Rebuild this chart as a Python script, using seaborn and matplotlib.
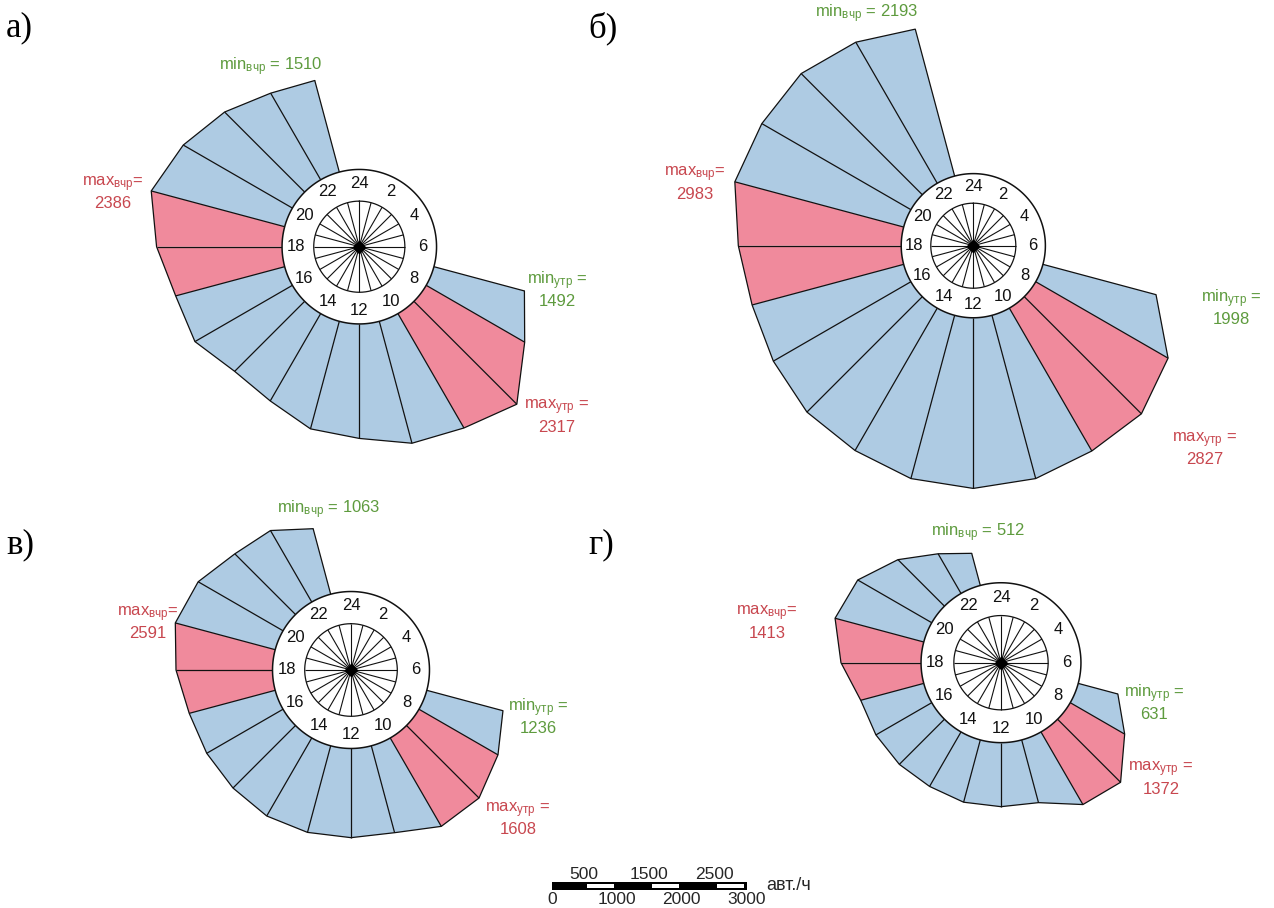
import numpy as np
import matplotlib
matplotlib.use("Agg")
import matplotlib.pyplot as plt
import seaborn as sns

# ---------------- data ----------------
hours = list(range(7, 24))  # hourly vertices 7:00 ... 23:00
flow_a = [1492, 1811, 2317, 2103, 2010, 1823, 1773, 1606, 1577, 1792, 1797, 1998, 2200, 2007, 1803, 1593, 1510]
flow_b = [1998, 2608, 2827, 2815, 2884, 2912, 2884, 2806, 2785, 2710, 2678, 2780, 2983, 2937, 2924, 2780, 2596]
flow_c = [1236, 1430, 1608, 1600, 1410, 1398, 1405, 1412, 1386, 1381, 1395, 1513, 1621, 1536, 1345, 1294, 1063]
flow_d = [631, 967, 1372, 1290, 999, 985, 992, 968, 982, 992, 1004, 1232, 1413, 1315, 1012, 705, 512]
peak_hours = [8, 9, 17, 18]          # intervals starting at these hours are peak (pink)
panel_names = ["а)", "б)", "в)", "г)"]
min_evening = [1510, 2193, 1063, 512]
max_evening = [2386, 2983, 2591, 1413]
min_morning = [1492, 1998, 1236, 631]
max_morning = [2317, 2827, 1608, 1372]
clock_hours = [2, 4, 6, 8, 10, 12, 14, 16, 18, 20, 22, 24]
scale_ticks = [0, 500, 1000, 1500, 2000, 2500, 3000]
scale_unit = "авт./ч"

# ---------------- style ----------------
sns.set_theme(style="white")
plt.rcParams["font.family"] = ["Liberation Sans", "DejaVu Sans"]
plt.rcParams["mathtext.fontset"] = "custom"
plt.rcParams["mathtext.rm"] = "Liberation Sans"
plt.rcParams["mathtext.it"] = "Liberation Sans"

BLUE = "#AECBE3"
PINK = "#F08A9C"
GREEN = "#5E9B3E"
RED = "#C8474F"
EDGE = "#111111"

W, H = 1274, 908
HUB = 1230      # hub radius expressed in flow units
RMAX = 3100

layout = [
    dict(flow=flow_a, c=(359.3, 246.7), k=0.0628, letter=(6, 28),
         lmin_ev=(271, 67), lmax_ev=(113, 193), lmin_mo=(557, 289), lmax_mo=(557, 416)),
    dict(flow=flow_b, c=(973.3, 245.7), k=0.0586, letter=(588, 28),
         lmin_ev=(867, 14), lmax_ev=(695, 183), lmin_mo=(1231, 307), lmax_mo=(1205, 449)),
    dict(flow=flow_c, c=(351.0, 670.0), k=0.0638, letter=(6, 545),
         lmin_ev=(329, 510), lmax_ev=(148, 623), lmin_mo=(538, 716), lmax_mo=(518, 819)),
    dict(flow=flow_d, c=(1001.0, 662.7), k=0.0650, letter=(588, 545),
         lmin_ev=(978, 533), lmax_ev=(767, 622), lmin_mo=(1154, 702), lmax_mo=(1161, 778)),
]

fig = plt.figure(figsize=(W / 100, H / 100), dpi=100)
fig.patch.set_facecolor("white")


def fxy(x, y):
    return x / W, 1 - y / H


def theta(h):
    return 2 * np.pi * np.asarray(h, dtype=float) / 24.0


for i, p in enumerate(layout):
    cx, cy = p["c"]
    R = (RMAX + HUB) * p["k"]
    ax = fig.add_axes([(cx - R) / W, 1 - (cy + R) / H, 2 * R / W, 2 * R / H],
                      projection="polar")
    ax.set_theta_zero_location("N")
    ax.set_theta_direction(-1)
    ax.patch.set_alpha(0)

    vals = np.asarray(p["flow"], dtype=float)
    th = theta(hours)

    # wedges between consecutive hourly vertices
    for j in range(len(hours) - 1):
        col = PINK if hours[j] in peak_hours else BLUE
        ax.fill([th[j], th[j], th[j + 1], th[j + 1]],
                [0, vals[j], vals[j + 1], 0], color=col, lw=0, zorder=1)
    # radial edges and outer outline
    ax.vlines(th, 0, vals, colors=EDGE, lw=0.9, zorder=2)
    sns.lineplot(x=th, y=vals, ax=ax, color=EDGE, linewidth=0.9, sort=False,
                 legend=False, zorder=2)

    # hub: white disc, spokes circle, clock labels, diamond
    tt = np.linspace(0, 2 * np.pi, 361)
    ax.fill(tt, np.zeros_like(tt), facecolor="white", edgecolor=EDGE, lw=1.1, zorder=3)
    r_in = -HUB * 0.41
    ax.plot(tt, np.full_like(tt, r_in), color=EDGE, lw=0.9, zorder=4)
    ax.vlines(theta(np.arange(24)), -HUB, r_in, colors=EDGE, lw=0.8, zorder=4)
    ax.plot([0], [-HUB], marker="D", ms=6.5, color="black", zorder=5)
    for h in clock_hours:
        ax.text(theta(h), -HUB * 0.18, str(h), ha="center", va="center",
                fontsize=12, color="#111111", zorder=6)

    ax.set_ylim(-HUB, RMAX)
    ax.set_xlabel("")
    ax.set_ylabel("")
    ax.axis("off")

    # annotations
    fig.text(*fxy(*p["letter"]), panel_names[i], family="Liberation Serif",
             fontsize=25, ha="left", va="center", color="black")
    fig.text(*fxy(*p["lmin_ev"]), r"min$_{\mathregular{вчр}}$ = %d" % min_evening[i],
             color=GREEN, fontsize=12, ha="center", va="center")
    fig.text(*fxy(*p["lmax_ev"]), "max$_{\\mathregular{вчр}}$=\n%d" % max_evening[i],
             color=RED, fontsize=12, ha="center", va="center", linespacing=1.2,
             multialignment="center")
    fig.text(*fxy(*p["lmin_mo"]), "min$_{\\mathregular{утр}}$ =\n%d" % min_morning[i],
             color=GREEN, fontsize=12, ha="center", va="center", linespacing=1.2,
             multialignment="center")
    fig.text(*fxy(*p["lmax_mo"]), "max$_{\\mathregular{утр}}$ =\n%d" % max_morning[i],
             color=RED, fontsize=12, ha="center", va="center", linespacing=1.2,
             multialignment="center")

# ---------------- scale bar ----------------
x0, x1, yt, yb = 551.7, 746.7, 881.7, 890.0
sax = fig.add_axes([x0 / W, 1 - yb / H, (x1 - x0) / W, (yb - yt) / H])
sax.set_xlim(scale_ticks[0], scale_ticks[-1])
sax.set_ylim(0, 1)
sax.barh(0.5, scale_ticks[-1] - scale_ticks[0], left=scale_ticks[0], height=1.0,
         color="black", lw=0)
for a, b in zip(scale_ticks[1::2], scale_ticks[2::2]):
    sax.barh(0.5, (b - a) * 0.84, left=a + (b - a) * 0.08, height=0.4, color="white", lw=0)
for n, t in enumerate(scale_ticks):
    if n % 2 == 1:
        sax.text(t, 1.85, str(t), ha="center", va="center", fontsize=12.5, clip_on=False)
    else:
        sax.text(t, -1.1, str(t), ha="center", va="center", fontsize=12.5, clip_on=False)
sax.text(scale_ticks[-1] + 300, 0.5, scale_unit, ha="left", va="center", fontsize=13,
         clip_on=False)
sax.axis("off")

fig.savefig("out.png", dpi=100, facecolor="white")
